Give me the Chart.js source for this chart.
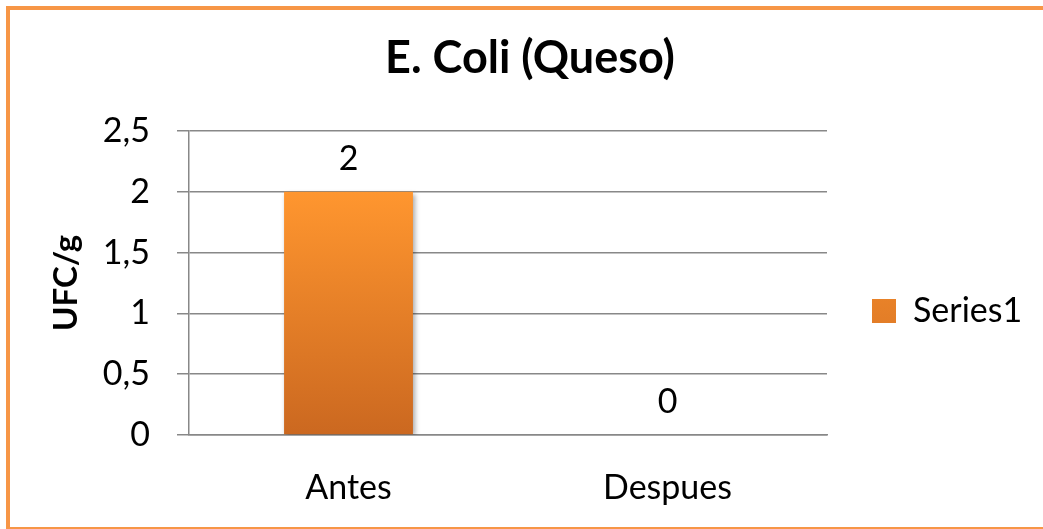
<!DOCTYPE html>
<html>
<head>
<meta charset="utf-8">
<title>E. Coli (Queso)</title>
<script src="https://cdn.jsdelivr.net/npm/chart.js@4.4.0/dist/chart.umd.min.js"></script>
<style>
  html, body { margin: 0; padding: 0; background: #fff; overflow: hidden; }
  #frame { position: absolute; left: 6px; top: 6px; width: 1100px; height: 517px; border: 4px solid #F79646; }
  #wrap { position: absolute; left: 0; top: 0; width: 1043px; height: 529px; }
</style>
</head>
<body>
<div id="frame"></div>
<div id="wrap"><canvas id="chartCanvas" width="1043" height="529"></canvas></div>
<script>
// chart data
const chartTitle = 'E. Coli (Queso)';
const yAxisTitle = 'UFC/g';
const categories = ['Antes', 'Despues'];
const seriesName = 'Series1';
const seriesValues = [2, 0];
const yTickLabels = ['0', '0,5', '1', '1,5', '2', '2,5'];

const FONT = 'Lato';
const gridGray = '#888888';

// Excel style vertical gradient on each bar
function barFill(context) {
  const chart = context.chart;
  if (context.type !== 'data' || !chart.chartArea) return '#E8812B';
  const y = chart.scales.y;
  const top = y.getPixelForValue(context.raw);
  const bottom = y.getPixelForValue(0);
  if (bottom - top < 1) return '#E8812B';
  const g = chart.ctx.createLinearGradient(0, top, 0, bottom);
  g.addColorStop(0, '#FF962F');
  g.addColorStop(1, '#CB6820');
  return g;
}

// shadow under bars + value labels above them
const barExtras = {
  id: 'barExtras',
  beforeDatasetsDraw(chart) {
    const c = chart.ctx;
    c.save();
    c.shadowColor = 'rgba(0, 0, 0, 0.35)';
    c.shadowBlur = 5;
    c.shadowOffsetX = 2;
    c.shadowOffsetY = 2;
  },
  afterDatasetsDraw(chart) {
    const c = chart.ctx;
    c.restore();
    const meta = chart.getDatasetMeta(0);
    c.save();
    c.font = '34px ' + FONT;
    c.fillStyle = '#000';
    c.textAlign = 'center';
    c.textBaseline = 'alphabetic';
    meta.data.forEach((bar, i) => {
      c.fillText(String(seriesValues[i]).replace('.', ','), bar.x, bar.y - 22);
    });
    c.restore();
  }
};

// keep the legend column a fixed width so the plot ends where Excel's does
const legendWidth = {
  id: 'legendWidth',
  beforeUpdate(chart) {
    const lg = chart.legend;
    if (lg && !lg._fixedWidth) {
      const fit = lg.fit;
      lg.fit = function () { fit.call(this); this.width = 216; };
      lg._fixedWidth = true;
    }
  }
};

const ctx = document.getElementById('chartCanvas').getContext('2d');
new Chart(ctx, {
  type: 'bar',
  data: {
    labels: categories,
    datasets: [{
      label: seriesName,
      data: seriesValues,
      backgroundColor: barFill,
      borderWidth: 0,
      categoryPercentage: 1,
      barPercentage: 0.404
    }]
  },
  plugins: [barExtras, legendWidth],
  options: {
    responsive: false,
    animation: false,
    layout: { padding: { left: 17, right: 0, top: 0, bottom: 0 } },
    plugins: {
      title: {
        display: true,
        text: chartTitle,
        color: '#000',
        font: { family: FONT, size: 45, weight: 'bold' },
        padding: { top: 31, bottom: 46 }
      },
      legend: {
        display: true,
        position: 'right',
        fullSize: false,
        labels: {
          boxWidth: 24,
          boxHeight: 24,
          padding: 45,
          color: '#000',
          font: { family: FONT, size: 34 }
        },
        title: { display: true, text: '', font: { size: 10 }, padding: { top: 44, bottom: 0 } }
      },
      tooltip: { enabled: false }
    },
    scales: {
      x: {
        afterFit(scale) { scale.height = 94; },
        grid: { display: false, drawTicks: false },
        border: { display: true, color: gridGray, width: 1.5 },
        ticks: { color: '#000', padding: 33, font: { family: FONT, size: 34 } }
      },
      y: {
        min: 0,
        max: 2.5,
        afterFit(scale) { scale.width = 172; },
        grid: { color: gridGray, lineWidth: 1.5, drawTicks: true, tickLength: 12 },
        border: { display: true, color: gridGray, width: 1.5 },
        ticks: {
          stepSize: 0.5,
          color: '#000',
          padding: 27,
          font: { family: FONT, size: 34 },
          callback: function (value, index) { return yTickLabels[index]; }
        },
        title: {
          display: true,
          text: yAxisTitle,
          color: '#000',
          font: { family: FONT, size: 33, weight: 'bold' },
          padding: { top: 30, bottom: 0 }
        }
      }
    }
  }
});
</script>
</body>
</html>
